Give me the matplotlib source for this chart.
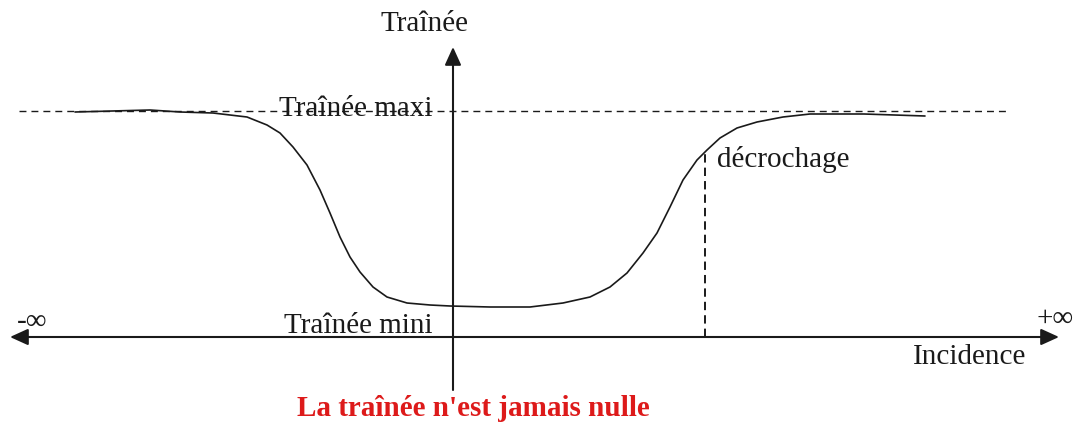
import numpy as np
import matplotlib
matplotlib.use("Agg")
import matplotlib.pyplot as plt

plt.rcParams['font.family'] = ['Liberation Serif', 'DejaVu Serif']

incidence = [-378, -303, -273, -240, -206, -186, -173, -160, -146, -133, -123, -113,
             -103, -93, -80, -66, -46, -23, -3, 37, 77, 110, 137, 157, 174, 190,
             204, 217, 230, 244, 254, 267, 284, 304, 330, 357, 411, 472]
trainee = [225, 227, 225, 224, 220, 212, 204, 190, 172, 147, 124, 100,
           80, 65, 50, 40, 34, 32, 31, 30, 30, 34, 40, 50, 64, 84,
           104, 130, 157, 177, 187, 199, 209, 215, 220, 223, 223, 221]

trainee_maxi = 226
x_maxi = [-434, 557]
decrochage = (252, 184)

fig = plt.figure(figsize=(10.74, 4.25), dpi=100)
ax = fig.add_axes([0, 0, 1, 1])
ax.set_xlim(-453, 621)
ax.set_ylim(-88, 337)
ax.axis('off')

ink = '#1a1a1a'

# axes fléchés
ax.annotate('', xy=(-443, 0), xytext=(606, 0),
            arrowprops=dict(arrowstyle='<|-|>,head_length=0.55,head_width=0.25',
                            mutation_scale=20, lw=1.5, color=ink,
                            shrinkA=0, shrinkB=0))
ax.annotate('', xy=(0, 290), xytext=(0, -53),
            arrowprops=dict(arrowstyle='-|>,head_length=0.55,head_width=0.25',
                            mutation_scale=20, lw=1.5, color=ink,
                            shrinkA=0, shrinkB=0))

# traînée maxi
ax.plot(x_maxi, [trainee_maxi, trainee_maxi], color=ink, lw=1.0,
        linestyle=(0, (5, 3.6)))

# décrochage
ax.plot([decrochage[0], decrochage[0]], [0, decrochage[1]], color=ink, lw=1.4,
        linestyle=(0, (4.3, 2.6)))

# courbe
ax.plot(incidence, trainee, color=ink, lw=1.2, solid_joinstyle='round',
        solid_capstyle='round')

fs = 21
ax.text(-28, 306, 'Traînée', ha='center', va='baseline', fontsize=fs, color=ink)
ax.text(-174, 221, 'Traînée maxi', ha='left', va='baseline', fontsize=fs, color=ink)
ax.text(-169, 4, 'Traînée mini', ha='left', va='baseline', fontsize=fs, color=ink)
ax.text(264, 170, 'décrochage', ha='left', va='baseline', fontsize=fs, color=ink)
ax.text(-436, 15, '-∞', ha='left', va='center', fontsize=fs, color=ink)
ax.text(583, 18, '+∞', ha='left', va='center', fontsize=fs, color=ink)
ax.text(460, -27, 'Incidence', ha='left', va='baseline', fontsize=fs, color=ink)
ax.text(20, -79, "La traînée n'est jamais nulle", ha='center', va='baseline',
        fontsize=fs, fontweight='bold', color='#dd1a1a')

fig.savefig('out.png', dpi=100)
